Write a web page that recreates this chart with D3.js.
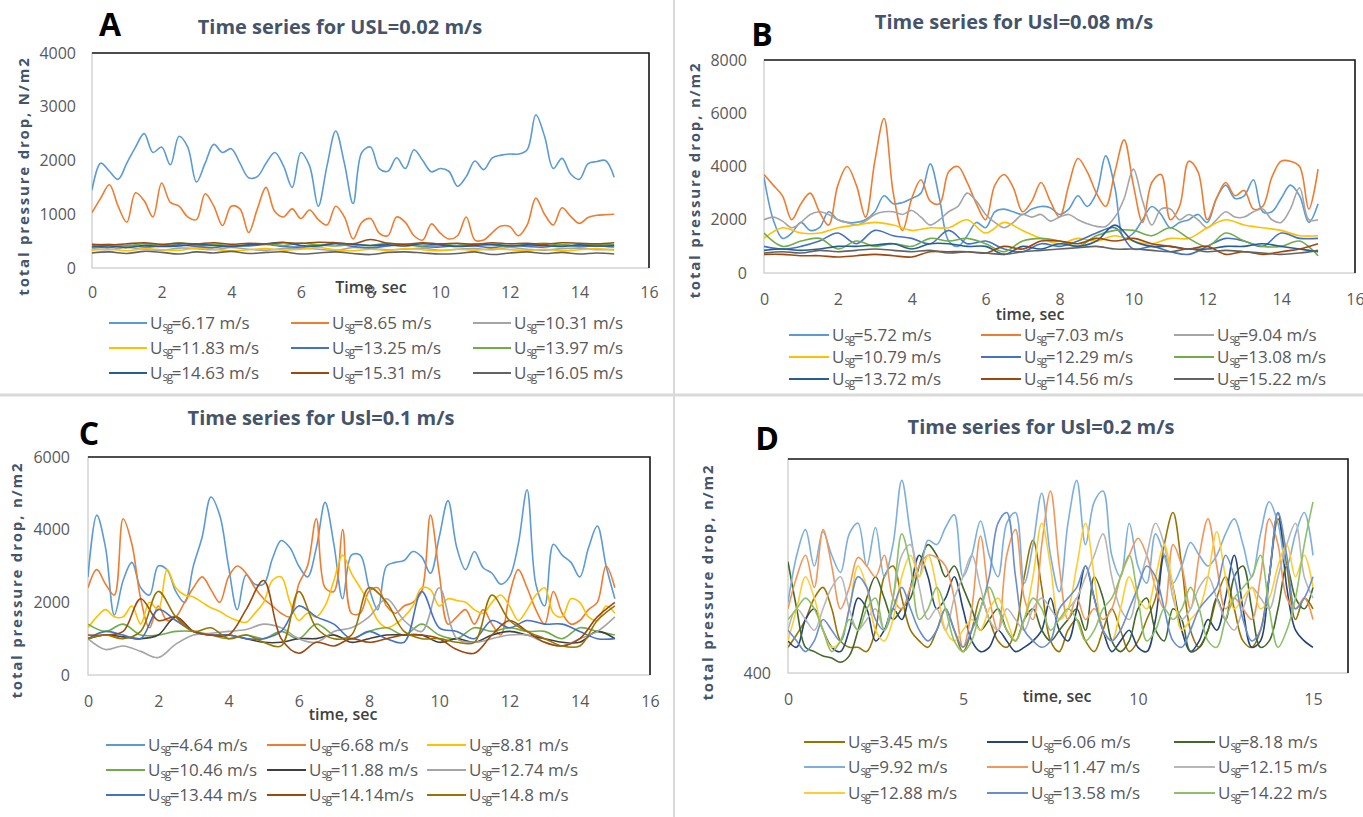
<!DOCTYPE html>
<html>
<head>
<meta charset="utf-8">
<script src="https://cdn.jsdelivr.net/npm/d3@7/dist/d3.min.js"></script>
<style>
  body { margin: 0; background: #fff; }
  text { font-family: "Open Sans", "Noto Sans", sans-serif; }
</style>
</head>
<body>
<svg id="chart" width="1363" height="817"></svg>
<script>
// time grids, sec
const timeFine = [0,0.25,0.5,0.75,1,1.25,1.5,1.75,2,2.25,2.5,2.75,3,3.25,3.5,3.75,4,4.25,4.5,4.75,5,5.25,5.5,5.75,6,6.25,6.5,6.75,7,7.25,7.5,7.75,8,8.25,8.5,8.75,9,9.25,9.5,9.75,10,10.25,10.5,10.75,11,11.25,11.5,11.75,12,12.25,12.5,12.75,13,13.25,13.5,13.75,14,14.25,14.5,14.75,15];
const timeCoarse = [0,0.5,1,1.5,2,2.5,3,3.5,4,4.5,5,5.5,6,6.5,7,7.5,8,8.5,9,9.5,10,10.5,11,11.5,12,12.5,13,13.5,14,14.5,15];

// ---- A : USL = 0.02 m/s ----
const aLabels = ["6.17 m/s","8.65 m/s","10.31 m/s","11.83 m/s","13.25 m/s","13.97 m/s","14.63 m/s","15.31 m/s","16.05 m/s"];
const a617 = [1450,1950,1800,1650,1950,2250,2500,2150,2250,1920, 2450,2250,1600,1950,2300,2150,2220,1950,1680,1700, 1950,2150,1900,1500,2150,1900,1150,1900,2550,1950, 1200,2150,2250,1850,1800,2050,1850,2200,2000,1790, 1850,1800,1520,1700,1990,1830,2050,2100,2120,2120, 2200,2850,2450,1850,2040,1750,1650,1940,1980,2000, 1690];
const a865 = [1030,1300,1550,1150,850,1400,1250,950,1580,1220, 1150,950,900,1380,1150,790,1150,1100,660,1100, 1500,1050,950,1100,920,1080,900,800,1150,950, 540,850,920,650,600,950,850,600,520,820, 650,540,600,950,520,520,660,780,770,600, 800,1300,1000,800,1120,960,830,940,980,990, 1000];
const a1031 = [360,340,380,350,330,370,360,340,380,350, 330,360,370,350,330,380,360,340,350,370, 330,350,360,340,380,350,330,360,370,340, 350];
const a1183 = [330,350,320,360,340,330,370,350,320,340, 360,330,350,380,340,320,350,330,360,340, 320,350,330,360,340,330,350,320,340,360, 330];
const a1325 = [400,380,420,390,410,430,400,380,420,410, 440,400,390,420,450,400,380,410,440,400, 390,420,410,380,420,400,390,430,400,410, 390];
const a1397 = [420,440,410,450,430,470,420,440,410,430, 450,420,460,430,410,440,420,460,430,410, 440,420,450,430,410,440,460,430,420,440, 430];
const a1463 = [390,410,380,420,400,410,440,420,400,430, 450,480,420,410,460,440,420,430,410,450, 430,400,420,440,410,430,420,400,430,410, 420];
const a1531 = [440,430,450,470,440,460,450,470,440,460, 450,470,460,480,470,450,530,460,440,470, 450,460,440,470,450,460,440,470,460,450, 470];
const a1605 = [280,300,270,310,290,260,300,280,310,270, 290,300,260,280,300,270,250,290,300,280, 260,270,300,250,280,300,270,290,260,280, 260];

// ---- B : Usl = 0.08 m/s ----
const bLabels = ["5.72 m/s","7.03 m/s","9.04 m/s","10.79 m/s","12.29 m/s","13.08 m/s","13.72 m/s","14.56 m/s","15.22 m/s"];
const b572 = [3600,2000,1300,1500,1900,1600,1700,2300,2000,1900, 1900,2000,2300,2900,2600,2650,2800,3000,4100,2800, 1200,1000,1400,1900,1700,2300,2400,2300,2200,2400, 2500,2450,2200,2400,2900,2500,3000,4400,3200,1300, 1500,2000,2500,2200,1700,1900,2000,2200,1900,2800, 3300,2800,2900,3500,2300,2300,2800,3300,2900,1900, 2600];
const b703 = [3700,3300,2900,2000,2600,3000,2300,1800,3300,4000, 3300,2100,4200,5800,3000,1600,2800,3500,2700,2600, 3800,4000,3400,2600,2000,3300,3700,3200,2300,2700, 3400,2700,2100,3300,4300,3800,3000,2500,3800,5000, 3300,1900,3400,3700,2000,2500,4200,3800,2000,2800, 3400,2900,3100,2400,2500,3600,4200,4200,4000,2400, 3900];
const b904 = [2000,2100,1950,1700,1900,2200,2300,2200,2000,1900, 1800,1950,2200,2300,2300,2200,2350,2100,1800,2000, 2300,2500,3000,2700,2200,1900,1700,1900,2200,2100, 2200,1950,2100,2200,2000,1850,1750,1750,2100,2800, 3900,2700,1800,2400,2400,2000,2200,2000,1700,2000, 2300,2100,2100,2300,2400,2000,1900,2400,3200,2000, 2000];
const b1079 = [1300,1700,1500,1500,1700,1800,1900,1800,1600,1700, 1700,2000,1500,1900,1600,1300,1100,1300,1200,1400, 1200,1100,1300,1300,1700,2000,1800,1700,1600,1400, 1400];
const b1229 = [1000,900,1000,1200,1500,1100,1600,1400,1300,1100, 1600,1100,1200,900,800,1100,1000,1200,1500,1700, 900,1000,800,700,1000,1300,1200,1000,1500,1300, 1300];
const b1308 = [1500,1000,1200,1300,900,1200,1000,1100,1000,1300, 1200,1300,1100,800,1200,1300,1200,1000,1400,1600, 1600,1400,1700,1300,1000,1500,1200,1000,1000,1200, 650];
const b1372 = [850,900,850,900,1000,1000,1050,1100,900,1100, 1100,1000,1000,700,1000,900,1100,1000,1200,1800, 1200,1000,1000,900,900,1000,1000,1100,1000,900, 800];
const b1456 = [700,700,650,650,600,650,700,650,600,800, 800,800,750,1000,900,1200,1200,1100,1300,1200, 1300,1100,1000,900,1000,700,800,700,800,900, 1100];
const b1522 = [750,800,750,850,800,850,900,850,800,850, 750,800,750,700,800,850,900,950,1000,900, 900,850,800,900,800,850,800,750,700,750, 850];

// ---- C : Usl = 0.1 m/s ----
const cLabels = ["4.64 m/s","6.68 m/s","8.81 m/s","10.46 m/s","11.88 m/s","12.74 m/s","13.44 m/s","14.14m/s","14.8 m/s"];
const c464 = [2700,4400,3500,1650,2600,3100,2400,2200,3000,2900, 2300,2000,3000,3800,4900,4400,3000,1800,2750,2500, 2500,3200,3700,3500,3000,2700,3500,4750,3600,2100, 3300,3300,2400,1800,3000,3100,3150,3400,3250,2800, 3800,4800,3500,2900,3400,2950,2800,2500,2700,3600, 5100,2500,1900,3600,3300,3100,2700,3500,4100,3000, 2100];
const c668 = [2400,2900,2500,2200,4300,3600,2100,1300,1900,1500, 1600,2000,2400,2700,2350,2000,2700,3000,2800,2400, 2100,1900,1700,1600,2500,3000,4300,2400,2300,4000, 1700,1700,2300,2400,1900,1700,1900,2000,2300,4400, 2800,1400,1600,1800,1400,1800,1400,1100,2200,2900, 2400,1800,1400,2300,1700,1400,1500,1800,2000,3000, 2400];
const c881 = [1300,1600,1800,1600,1600,1900,1400,2000,1800,2900, 2400,2200,2150,2000,1850,1750,1600,1500,1450,1700, 2000,2600,2700,2000,1500,1700,1600,1900,2600,3300, 2800,2400,2000,1500,1300,1400,1600,1900,2400,2350, 1900,2100,2050,2000,1800,1700,2000,2200,1900,1500, 1800,2200,2400,1700,1600,2100,2000,1600,1500,1900, 1700];
const c1046 = [1400,1200,1400,1100,1100,1200,1200,1100,1000,1100, 1000,1200,1000,1400,1100,1000,1200,1300,1100,1400, 1100,1000,1300,1200,1300,1200,1200,1000,1300,1200, 1100];
const c1188 = [1000,1100,1050,1000,1100,1600,1200,1100,1100,1000, 900,900,1000,1000,1100,900,1000,1100,1100,1100, 900,1000,900,1100,1200,1100,1000,900,900,1200, 1000];
const c1274 = [1000,700,800,650,480,850,1100,1150,1200,1250, 1400,1300,1000,900,1200,1300,1600,2100,1500,1200, 2400,1000,900,1000,1100,1100,900,800,1000,1200, 1600];
const c1344 = [1000,1200,1100,1000,1800,1500,1200,1100,1100,1000, 1000,1200,1900,1600,1400,1000,1200,1000,900,2300, 1300,1200,1000,1500,1300,1500,1400,1400,1200,1000, 1000];
const c1414 = [1100,1100,1200,2100,1500,1600,1200,1100,1100,1800, 2600,1000,600,900,800,1000,900,1000,1100,1100, 1000,700,600,1100,1500,1200,900,800,1000,1600, 2000];
const c1480 = [1000,1100,1000,1200,2300,1600,1200,1300,1000,1100, 900,800,2300,1300,1000,1100,2400,2000,1200,1000, 1000,900,900,2200,1500,1200,1000,800,800,1500, 1900];

// ---- D : Usl = 0.2 m/s ----
const dLabels = ["3.45 m/s","6.06 m/s","8.18 m/s","9.92 m/s","11.47 m/s","12.15 m/s","12.88 m/s","13.58 m/s","14.22 m/s"];
const d345 = [1120,1480,1900,2500,2800,2200,1300,1120,1120,1000, 1600,3100,3400,2500,1600,1300,1120,1600,2200,1600, 1000,1600,2500,1900,1300,1120,1600,3100,4120,2800, 1300,1000,1600,1900,1300,1000,1600,2200,1600,1000, 1300,1900,2500,4000,4900,3400,1600,1120,1600,2500, 3100,2200,1300,1120,1600,3100,4720,3400,1900,2500, 2200];
const d606 = [1300,1120,1900,2200,1600,1120,1000,1600,2500,2200, 1300,1600,2200,1900,2800,3700,3100,2200,2500,3100, 2200,1300,1000,1120,1600,1300,1000,1120,1300,1600, 2500,1600,1300,2200,3400,2500,1600,1000,1300,1600, 1120,1000,1900,3700,2800,1600,1000,1300,1900,1600, 2500,3700,2200,1120,1300,3100,4900,2800,1600,1300, 1120];
const d818 = [3520,2200,1120,1000,880,820,700,880,1600,2500, 3100,2500,1900,2200,2500,3400,4000,3700,3100,3400, 2800,2200,1600,1900,2200,1600,1300,1900,2200,1600, 1300,1600,1900,2200,1600,3100,2500,1300,1000,1300, 2200,2500,1600,1300,2200,1900,1000,1120,1600,2500, 1900,3100,3400,2200,1120,1300,2200,3400,2500,2200, 2800];
const d992 = [2380,3700,4420,3400,4360,3700,3220,4300,4600,3400, 4480,3100,4000,5800,4300,3100,4120,4000,4480,4840, 3100,3700,4660,3700,3100,4600,4900,2920,4000,5440, 3700,2680,4600,5800,4000,5200,5500,3700,3100,4600, 3400,2920,4300,3700,2920,3400,4060,3700,3400,3700, 4300,4720,4000,3100,4300,5200,4600,3400,4300,4900, 3700];
const d1147 = [2200,3100,3700,2800,4420,3400,2200,2800,3640,3400, 3100,3700,2500,2200,2800,3400,3700,3640,3400,2500, 1120,2200,4240,2500,1600,3700,4420,2500,1900,4000, 5500,3400,1900,2500,1900,2200,1900,2200,3100,3700, 4180,3700,2800,2200,4000,3400,2200,3700,4720,3400, 2200,2500,2200,1900,3100,4720,4000,2500,2200,2500, 1900];
const d1215 = [1600,2200,1900,1600,2200,2800,3100,2200,1600,1900, 2200,1600,2500,3700,4000,2800,1900,2200,1600,2500, 3100,3700,2800,1900,1600,2200,1900,1600,2200,2500, 2200,1900,2200,2500,3100,3700,4300,3100,2200,1900, 2800,3700,4600,4000,2500,1900,2200,2800,3100,2500, 1900,1600,2200,2800,2500,2200,3100,4000,4600,3100, 2500];
const d1288 = [1300,2200,3100,2500,1600,1120,1300,2200,3400,2800, 1600,1300,1900,3100,3700,3100,3700,2800,1600,1300, 1600,1900,1600,2200,2500,1900,1300,1900,3100,4600, 3400,1900,2200,3400,4600,3100,1600,1300,2200,3100, 2500,2200,3100,4000,2800,1600,1900,2200,3100,4360, 3100,2200,2500,2800,2200,2500,3400,4000,3100,3700, 2800];
const d1358 = [1600,1300,1000,1300,1900,1600,1300,2200,3100,2800, 1900,1600,2200,2800,2200,1600,1300,1600,2200,1600, 1120,1600,2200,3100,4600,4900,3100,1600,1300,1120, 1300,2200,2500,2800,3400,2500,1600,1300,1600,2200, 2800,3400,3100,2200,1300,1120,1600,2200,2500,2800, 3700,3100,1900,1300,1600,3100,4900,3700,2200,2500, 3100];
const d1422 = [1900,2200,2500,2200,1600,1000,1300,1900,1600,2200, 2500,1600,2500,4300,3400,1900,2200,2800,2200,1300, 1000,1300,2200,2800,2200,1600,1300,1900,2500,2200, 1600,1900,2200,1900,1300,1600,2200,2500,3100,3700, 2500,1300,1600,2200,1900,2200,2800,2200,1300,1120, 1900,2500,2800,3100,3700,2200,1120,1600,2500,4000, 5200];

const colorsAB = ["#5B9BD5","#ED7D31","#A5A5A5","#FFC000","#4472C4","#70AD47","#255E91","#9E480E","#636363"];
const colorsC = ["#5B9BD5","#ED7D31","#FFC000","#70AD47","#404040","#A5A5A5","#4472C4","#9E480E","#997300"];
const colorsD = ["#997300","#264478","#43682B","#7CAFDD","#F1975A","#B7B7B7","#FFCD33","#698ED0","#8CC168"];

const svg = d3.select("#chart");

// panel separators
svg.append("line").attr("x1", 674).attr("x2", 674).attr("y1", 0).attr("y2", 817)
    .attr("stroke", "#d9d9d9").attr("stroke-width", 2);
svg.append("line").attr("x1", 0).attr("x2", 1363).attr("y1", 395).attr("y2", 395)
    .attr("stroke", "#d9d9d9").attr("stroke-width", 3);

const panels = [
    {
        letter: "A", letterPos: [110, 24],
        title: "Time series for USL=0.02 m/s", titlePos: [340, 27],
        left: 92, right: 649, top: 53, bottom: 268,
        yDomain: [0, 4000], yTicks: [0, 1000, 2000, 3000, 4000],
        xTicks: [0, 2, 4, 6, 8, 10, 12, 14, 16],
        yTitle: "total pressure drop,  N/m2", yTitlePos: [24, 176],
        xTitle: "Time, sec", xTitlePos: [371, 287],
        xPad: 19, yPad: 16,
        colors: colorsAB, labels: aLabels,
        series: [[a617, timeFine], [a865, timeFine], [a1031, timeCoarse], [a1183, timeCoarse], [a1325, timeCoarse],
                 [a1397, timeCoarse], [a1463, timeCoarse], [a1531, timeCoarse], [a1605, timeCoarse]],
        legCols: [109, 291, 473], legRows: [323, 348, 373], legLen: 38
    },
    {
        letter: "B", letterPos: [762, 34],
        title: "Time series for Usl=0.08 m/s", titlePos: [1014, 22],
        left: 764, right: 1355, top: 60, bottom: 273,
        yDomain: [0, 8000], yTicks: [0, 2000, 4000, 6000, 8000],
        xTicks: [0, 2, 4, 6, 8, 10, 12, 14, 16],
        yTitle: "total pressure drop,  n/m2", yTitlePos: [695, 180],
        xTitle: "time, sec", xTitlePos: [1030, 314],
        xPad: 21, yPad: 17,
        colors: colorsAB, labels: bLabels,
        series: [[b572, timeFine], [b703, timeFine], [b904, timeFine], [b1079, timeCoarse], [b1229, timeCoarse],
                 [b1308, timeCoarse], [b1372, timeCoarse], [b1456, timeCoarse], [b1522, timeCoarse]],
        legCols: [789, 981, 1174], legRows: [335, 357, 379], legLen: 40
    },
    {
        letter: "C", letterPos: [89, 433],
        title: "Time series for Usl=0.1 m/s", titlePos: [321, 418],
        left: 88, right: 650, top: 457, bottom: 675,
        yDomain: [0, 6000], yTicks: [0, 2000, 4000, 6000],
        xTicks: [0, 2, 4, 6, 8, 10, 12, 14, 16],
        yTitle: "total pressure drop,  n/m2", yTitlePos: [17, 580],
        xTitle: "time, sec", xTitlePos: [343, 714],
        xPad: 21, yPad: 18,
        colors: colorsC, labels: cLabels,
        series: [[c464, timeFine], [c668, timeFine], [c881, timeFine], [c1046, timeCoarse], [c1188, timeCoarse],
                 [c1274, timeCoarse], [c1344, timeCoarse], [c1414, timeCoarse], [c1480, timeCoarse]],
        legCols: [106, 267, 427], legRows: [745, 770, 795], legLen: 39
    },
    {
        letter: "D", letterPos: [767, 438],
        title: "Time series for Usl=0.2 m/s", titlePos: [1041, 427],
        left: 788, right: 1348, top: 459, bottom: 673,
        yDomain: [400, 6400], yTicks: [400],
        xTicks: [0, 5, 10, 15],
        yTitle: "total pressure drop,  n/m2", yTitlePos: [708, 582],
        xTitle: "time, sec", xTitlePos: [1057, 696],
        xPad: 21, yPad: 17,
        colors: colorsD, labels: dLabels,
        series: [[d345, timeFine], [d606, timeFine], [d818, timeFine], [d992, timeFine], [d1147, timeFine],
                 [d1215, timeFine], [d1288, timeFine], [d1358, timeFine], [d1422, timeFine]],
        legCols: [804, 987, 1174], legRows: [742, 767, 793], legLen: 41
    }
];

function drawPanel(p, k) {
    const x = d3.scaleLinear().domain([0, 16]).range([p.left, p.right]);
    const y = d3.scaleLinear().domain(p.yDomain).range([p.bottom, p.top]);
    const g = svg.append("g");

    g.append("clipPath").attr("id", "clip" + k)
        .append("rect").attr("x", p.left).attr("y", p.top)
        .attr("width", p.right - p.left).attr("height", p.bottom - p.top);

    // plot frame: light left/bottom, dark top/right
    g.append("rect")
        .attr("x", p.left).attr("y", p.top)
        .attr("width", p.right - p.left).attr("height", p.bottom - p.top)
        .attr("fill", "none").attr("stroke", "#c9c9c9").attr("stroke-width", 1.2);
    g.append("path")
        .attr("d", `M${p.left},${p.top}H${p.right}V${p.bottom}`)
        .attr("fill", "none").attr("stroke", "#1e1e1e").attr("stroke-width", 1.6);

    const line = d3.line()
        .x(d => x(d[0]))
        .y(d => y(d[1]))
        .curve(d3.curveCatmullRom.alpha(0.5));

    p.series.forEach((s, i) => {
        const pts = s[1].map((t, j) => [t, s[0][j]]).filter(d => d[1] !== undefined);
        g.append("path")
            .datum(pts)
            .attr("clip-path", `url(#clip${k})`)
            .attr("d", line)
            .attr("fill", "none")
            .attr("stroke", p.colors[i])
            .attr("stroke-width", 1.6)
            .attr("stroke-linejoin", "round");
    });

    // axes
    const xAxis = g.append("g")
        .attr("transform", `translate(0,${p.bottom})`)
        .call(d3.axisBottom(x).tickValues(p.xTicks).tickSize(0).tickPadding(p.xPad).tickFormat(d3.format("d")));
    const yAxis = g.append("g")
        .attr("transform", `translate(${p.left},0)`)
        .call(d3.axisLeft(y).tickValues(p.yTicks).tickSize(0).tickPadding(p.yPad).tickFormat(d3.format("d")));
    [xAxis, yAxis].forEach(a => {
        a.select(".domain").remove();
        a.selectAll("text")
            .attr("fill", "#595959")
            .style("font-size", "16px")
            .style("font-family", "'Open Sans', sans-serif");
    });

    // titles
    g.append("text")
        .attr("x", p.letterPos[0]).attr("y", p.letterPos[1])
        .attr("text-anchor", "middle").attr("dy", "0.36em")
        .attr("font-size", 32).attr("font-weight", "bold").attr("fill", "#000")
        .text(p.letter);
    g.append("text")
        .attr("x", p.titlePos[0]).attr("y", p.titlePos[1])
        .attr("text-anchor", "middle").attr("dy", "0.36em")
        .attr("font-size", 20).attr("font-weight", "bold").attr("fill", "#44546A")
        .text(p.title);
    g.append("text")
        .attr("transform", `translate(${p.yTitlePos[0]},${p.yTitlePos[1]}) rotate(-90)`)
        .attr("text-anchor", "middle").attr("dy", "0.36em")
        .attr("font-size", 15).attr("font-weight", "bold").attr("fill", "#44546A")
        .attr("letter-spacing", 1.8)
        .text(p.yTitle);
    g.append("text")
        .attr("x", p.xTitlePos[0]).attr("y", p.xTitlePos[1])
        .attr("text-anchor", "middle").attr("dy", "0.36em")
        .attr("font-size", 16).attr("font-weight", 600).attr("fill", "#404040")
        .text(p.xTitle);

    // legend, 3 columns
    p.labels.forEach((lab, i) => {
        const lx = p.legCols[i % 3], ly = p.legRows[Math.floor(i / 3)];
        g.append("line")
            .attr("x1", lx).attr("x2", lx + p.legLen).attr("y1", ly).attr("y2", ly)
            .attr("stroke", p.colors[i]).attr("stroke-width", 2);
        const t = g.append("text")
            .attr("x", lx + p.legLen + 3).attr("y", ly).attr("dy", "0.36em")
            .attr("font-size", 17).attr("fill", "#595959");
        t.append("tspan").text("U");
        t.append("tspan").attr("font-size", 12).attr("dy", 2).attr("letter-spacing", -1.5).text("sg");
        t.append("tspan").attr("dy", -2).text("=" + lab);
    });
}

panels.forEach(drawPanel);
</script>
</body>
</html>
